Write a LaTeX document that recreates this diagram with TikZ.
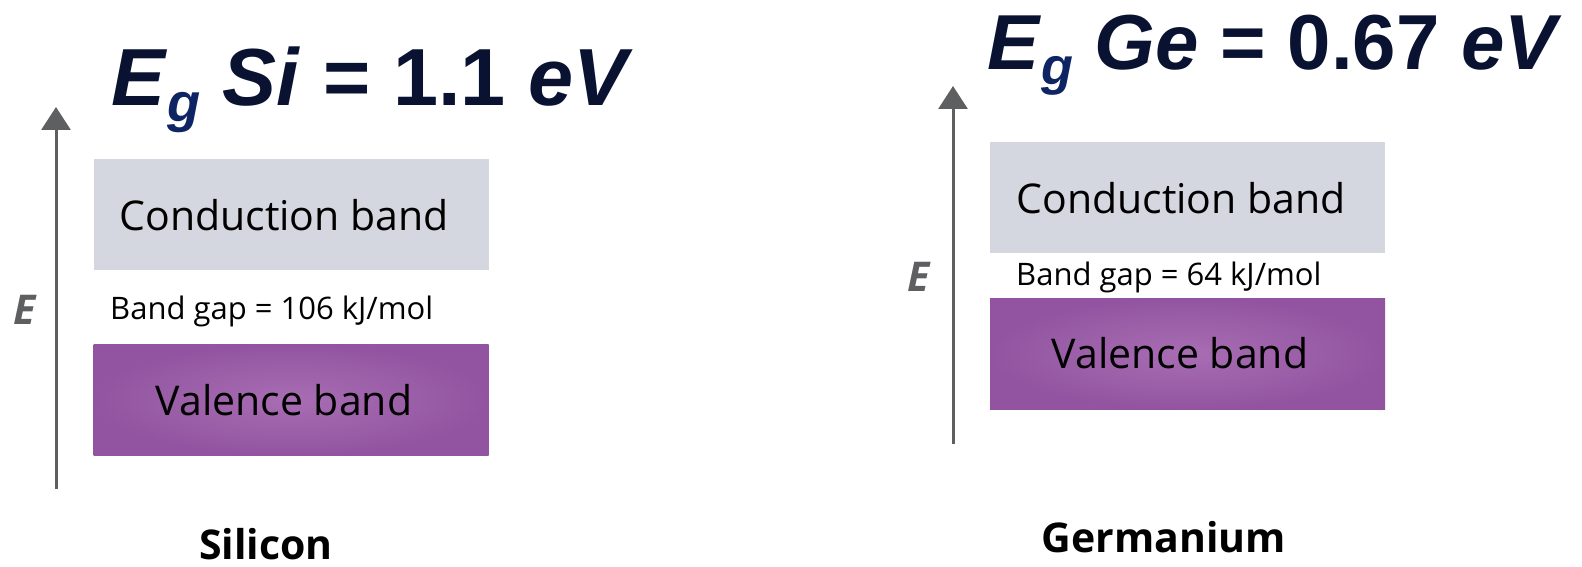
\documentclass[tikz,border=0pt]{standalone}
\usepackage{fontspec}
\setmainfont{Open Sans}
\newfontfamily\titlefont{Liberation Sans}
\usetikzlibrary{arrows.meta}

\definecolor{titlenavy}{HTML}{0A1232}
\definecolor{subnavy}{HTML}{0F2462}
\definecolor{axisgray}{HTML}{5E5F61}
\definecolor{condgray}{HTML}{D4D7DF}
\definecolor{valin}{HTML}{A86DB3}
\definecolor{valout}{HTML}{9254A0}

% subscript g of the band-gap symbol, sized relative to the title
\newcommand{\gsub}{\raisebox{-0.19em}{\fontsize{0.67em}{0.67em}\selectfont\textit{g}}}

\tikzset{
  axis/.style={draw=axisgray, line width=3pt,
    -{Triangle[length=23pt,width=29pt]}},
  condband/.style={fill=condgray, draw=none, inner sep=0pt,
    minimum width=395pt, minimum height=111pt, anchor=north west},
  valband/.style={shade, inner color=valin, outer color=valout, draw=none,
    inner sep=0pt, minimum width=395pt, minimum height=111pt,
    anchor=north west},
  bandlabel/.style={anchor=base, inner sep=0pt,
    font=\fontsize{41}{41}\selectfont},
  gaplabel/.style={anchor=base west, inner sep=0pt,
    font=\fontsize{31}{31}\selectfont},
  elabel/.style={text=axisgray, inner sep=0pt,
    font=\fontsize{41}{41}\selectfont\bfseries\itshape},
  title/.style={anchor=base west, inner sep=0pt, text=titlenavy,
    font=\titlefont\fontsize{#1}{#1}\selectfont\bfseries},
  material/.style={anchor=base, inner sep=0pt,
    font=\fontsize{41}{41}\selectfont\bfseries},
}

\begin{document}
\begin{tikzpicture}[x=1pt,y=-1pt]
\useasboundingbox (0,0) rectangle (1582,567);

% ---------- Silicon ----------
\node[title=81] (siTitle) at (111,106)
  {\textit{E}\textcolor{subnavy}{\gsub} \textit{Si} = 1.1 \textit{eV}};
\coordinate (siTop) at (56,107);
\coordinate (siBot) at (56,489);
\draw[axis] (siBot) -- (siTop);
\node[elabel] (siE) at (25,310) {E};
\node[condband] (siCond) at (93.5,159) {};
\node[bandlabel] (siCondT) at (284,230) {Conduction band};
\node[gaplabel] (siGap) at (110,319) {Band gap = 106 kJ/mol};
\node[valband] (siVal) at (93.5,344) {};
\node[bandlabel] (siValT) at (284,415) {Valence band};
\node[material] (siName) at (266,559) {Silicon};

% ---------- Germanium ----------
\node[title=78] (geTitle) at (987,70)
  {\textit{E}\textcolor{subnavy}{\gsub} \textit{Ge} = 0.67 \textit{eV}};
\coordinate (geTop) at (953,86);
\coordinate (geBot) at (953,444);
\draw[axis] (geBot) -- (geTop);
\node[elabel] (geE) at (919,277) {E};
\node[condband] (geCond) at (990,142) {};
\node[bandlabel] (geCondT) at (1181,213) {Conduction band};
\node[gaplabel] (geGap) at (1016,285) {Band gap = 64 kJ/mol};
\node[valband] (geVal) at (990,298) {};
\node[bandlabel] (geValT) at (1180,368) {Valence band};
\node[material] (geName) at (1164,552) {Germanium};
\end{tikzpicture}
\end{document}
